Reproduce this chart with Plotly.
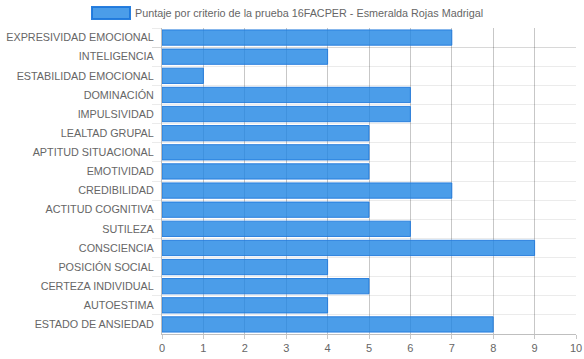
import plotly.graph_objects as go

categories = ["EXPRESIVIDAD EMOCIONAL", "INTELIGENCIA", "ESTABILIDAD EMOCIONAL", "DOMINACIÓN",
              "IMPULSIVIDAD", "LEALTAD GRUPAL", "APTITUD SITUACIONAL", "EMOTIVIDAD",
              "CREDIBILIDAD", "ACTITUD COGNITIVA", "SUTILEZA", "CONSCIENCIA",
              "POSICIÓN SOCIAL", "CERTEZA INDIVIDUAL", "AUTOESTIMA", "ESTADO DE ANSIEDAD"]
values = [7, 4, 1, 6, 6, 5, 5, 5, 7, 5, 6, 9, 4, 5, 4, 8]
series_name = "Puntaje por criterio de la prueba 16FACPER - Esmeralda Rojas Madrigal"
x_ticks = list(range(0, 11))

fig = go.Figure()
fig.add_trace(go.Bar(
    y=categories, x=values, orientation="h", name=series_name,
    marker=dict(color="rgba(30,132,228,0.80)", line=dict(color="rgba(30,120,220,0.9)", width=1)),
    showlegend=False,
))

fig.update_layout(
    width=584, height=359,
    margin=dict(l=162, r=8, t=28, b=25),
    paper_bgcolor="white", plot_bgcolor="white",
    font=dict(family="Liberation Sans, Arial, sans-serif", size=11, color="#666"),
    bargap=0.2,
    xaxis=dict(range=[0, 10], tickvals=x_ticks, showgrid=True, gridcolor="rgba(0,0,0,0.22)",
               gridwidth=1, zeroline=False, showline=True, linecolor="rgba(0,0,0,0.25)",
               ticks="outside", ticklen=4, tickcolor="rgba(0,0,0,0.22)", fixedrange=True,
               automargin=False),
    yaxis=dict(autorange="reversed", tickson="boundaries", showgrid=True,
               gridcolor="rgba(0,0,0,0.08)", ticks="outside", ticklen=9,
               tickcolor="rgba(0,0,0,0.08)", showline=True, linecolor="rgba(0,0,0,0.25)",
               zeroline=False, automargin=False, tickfont=dict(size=10.8),
               ticklabelstandoff=5),
)

# legend box + text (page coords converted to plot-paper fractions)
fig.add_shape(type="rect", xref="paper", yref="paper",
              x0=(92 - 162) / 414, x1=(130 - 162) / 414,
              y0=(334 - 19) / 306, y1=(334 - 7) / 306,
              fillcolor="rgba(30,132,228,0.80)", line=dict(color="rgba(30,120,220,0.95)", width=2))
fig.add_annotation(xref="paper", yref="paper", x=(133 - 162) / 414, y=(334 - 13) / 306,
                   text=series_name, showarrow=False, xanchor="left", yanchor="middle",
                   font=dict(size=10.8, color="#666"))

fig.write_html("out.html", config={"displayModeBar": False},
               post_script="document.body.style.margin='0';document.body.style.overflow='hidden';")
